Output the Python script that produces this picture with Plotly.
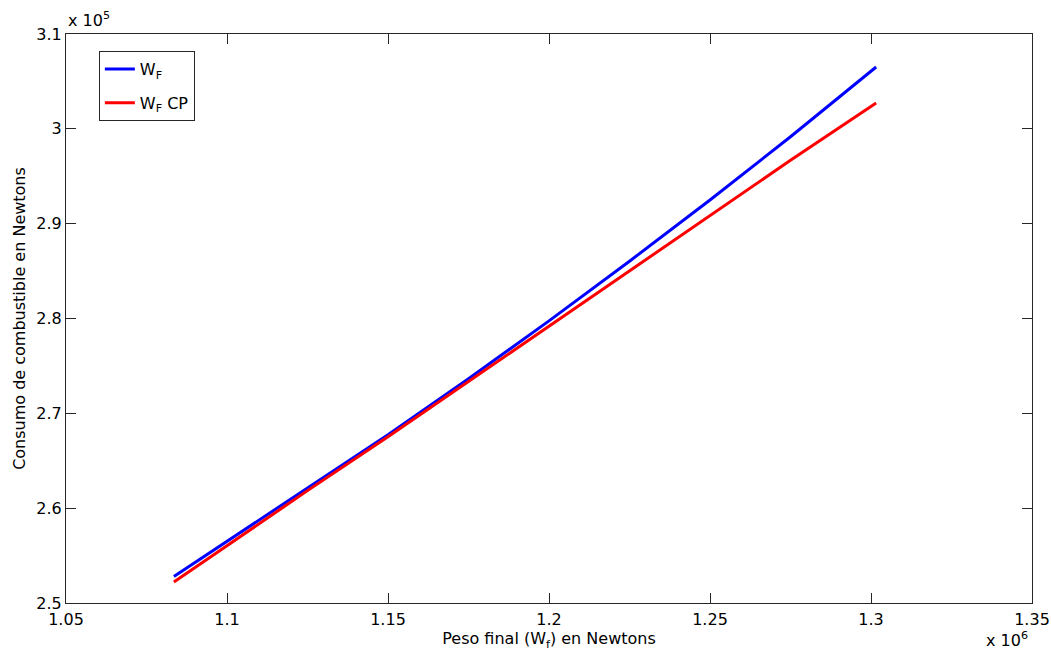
import plotly.graph_objects as go

# Peso final (x 10^6 N)
x_vals = [1.0835, 1.1, 1.125, 1.15, 1.175, 1.2, 1.225, 1.25, 1.275, 1.3016]
# Consumo de combustible (x 10^5 N)
wf = [2.528, 2.565, 2.6206, 2.6774, 2.7365, 2.7975, 2.8604, 2.925, 2.9916, 3.0652]
wf_cp = [2.5221, 2.5603, 2.6185, 2.6753, 2.7337, 2.7918, 2.8499, 2.9089, 2.9668, 3.0273]

x_ticks = [1.05, 1.1, 1.15, 1.2, 1.25, 1.3, 1.35]
x_ticklabels = ["1.05", "1.1", "1.15", "1.2", "1.25", "1.3", "1.35"]
y_ticks = [2.5, 2.6, 2.7, 2.8, 2.9, 3.0, 3.1]
y_ticklabels = ["2.5", "2.6", "2.7", "2.8", "2.9", "3", "3.1"]

FONT = "DejaVu Sans"
FS = 16

fig = go.Figure()
fig.add_trace(go.Scatter(x=x_vals, y=wf, mode="lines", name="W<sub>F</sub>",
                         legendgroup="a",
                         line=dict(color="#0000ff", width=3)))
fig.add_trace(go.Scatter(x=x_vals, y=wf_cp, mode="lines", name="W<sub>F</sub> CP",
                         legendgroup="b",
                         line=dict(color="#ff0000", width=3)))

axis_common = dict(showline=True, linecolor="#262626", linewidth=1, mirror="ticks",
                   ticks="inside", ticklen=10, tickcolor="#262626", showgrid=False,
                   zeroline=False, automargin=False,
                   tickfont=dict(family=FONT, size=FS, color="#000"))

fig.update_xaxes(range=[1.05, 1.35], tickvals=x_ticks, ticktext=x_ticklabels,
                 ticklabelstandoff=2,
                 title=dict(text="Peso final (W<sub>f</sub>) en Newtons",
                            font=dict(family=FONT, size=FS, color="#000"), standoff=0),
                 **axis_common)
fig.update_yaxes(range=[2.5, 3.1], tickvals=y_ticks, ticktext=y_ticklabels,
                 title=dict(text="Consumo de combustible en Newtons",
                            font=dict(family=FONT, size=FS, color="#000"), standoff=6),
                 **axis_common)

fig.add_annotation(xref="paper", yref="paper", x=0, y=1, xanchor="left", yanchor="bottom",
                   text="x 10<sup>5</sup>", showarrow=False, yshift=2,
                   font=dict(family=FONT, size=FS, color="#000"))
fig.add_annotation(xref="paper", yref="paper", x=1, y=0, xanchor="right", yanchor="top",
                   text="x 10<sup>6</sup>", showarrow=False, yshift=-24, xshift=-2,
                   font=dict(family=FONT, size=FS, color="#000"))

fig.update_layout(
    width=1051, height=655,
    margin=dict(l=66, r=19, t=34, b=52, autoexpand=False),
    paper_bgcolor="white", plot_bgcolor="white",
    font=dict(family=FONT, size=FS, color="#000"),
    legend=dict(x=0.034, y=0.97, xanchor="left", yanchor="top",
                bgcolor="white", bordercolor="#262626", borderwidth=1,
                font=dict(family=FONT, size=FS, color="#000"),
                tracegroupgap=10, itemwidth=30),
    showlegend=True,
)

fig.write_html("out.html", config={"displayModeBar": False},
               post_script="document.body.style.margin='0';document.body.style.padding='0';")
